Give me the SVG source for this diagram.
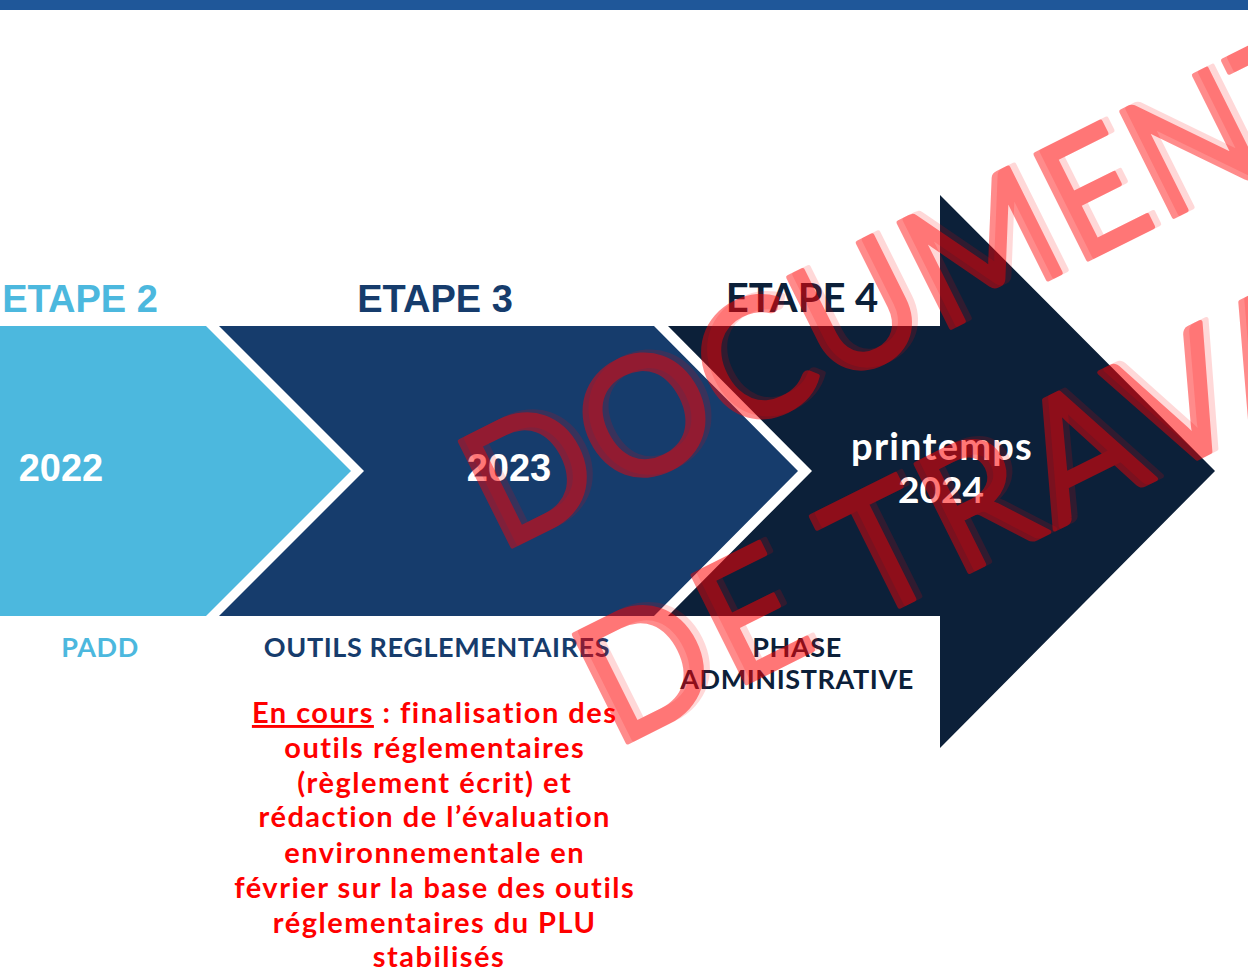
<svg xmlns="http://www.w3.org/2000/svg" width="1248" height="969" viewBox="0 0 1248 969">
<style>
.etape{font-family:"Liberation Sans",Arial,sans-serif;font-weight:bold;font-size:38px;text-anchor:middle}
.lato{font-family:Lato,"Open Sans",sans-serif;font-weight:bold;text-anchor:middle}
.year{font-family:"Liberation Sans",Arial,sans-serif;font-weight:bold;font-size:38px;fill:#ffffff;text-anchor:middle}
.lbl{font-size:27px;letter-spacing:0.6px}
.red{font-family:Lato,"Open Sans",sans-serif;font-weight:bold;font-size:29px;fill:#ff0000;text-anchor:middle;letter-spacing:1.5px}
.wm{font-family:Lato,"Liberation Sans",sans-serif;fill:#ff0000;stroke:#ff0000;stroke-width:4.5px;stroke-linejoin:round}
.wm1{font-size:164px;letter-spacing:1px}
.wm2{font-size:168px;letter-spacing:5px}
</style>
<rect x="0" y="0" width="1248" height="10" fill="#1f5799"/>
<g id="etape2">
<polygon points="0,326 206,326 351,471 206,616 0,616" fill="#4cb8de"/>
<text class="etape" x="80" y="312" fill="#4cb8de">ETAPE 2</text>
<text class="year" x="61" y="481">2022</text>
<text class="lato lbl" x="100" y="657" fill="#4cb8de">PADD</text>
</g>
<g id="etape3">
<polygon points="219,326 654,326 798,471 654,616 219,616 364,471" fill="#163c6c"/>
<text class="etape" x="435" y="312" fill="#163c6c">ETAPE 3</text>
<text class="year" x="509" y="481">2023</text>
<text class="lato lbl" x="437" y="657" fill="#163c6c">OUTILS REGLEMENTAIRES</text>
<text class="red">
<tspan x="439" y="723"><tspan text-decoration="underline">En cours</tspan> : finalisation des</tspan>
<tspan x="439" y="758">outils réglementaires</tspan>
<tspan x="439" y="793">(règlement écrit) et</tspan>
<tspan x="439" y="827">rédaction de l’évaluation</tspan>
<tspan x="439" y="863">environnementale en</tspan>
<tspan x="439" y="898">février sur la base des outils</tspan>
<tspan x="439" y="933">réglementaires du PLU</tspan>
<tspan x="439" y="967">stabilisés</tspan>
</text>
</g>
<g id="etape4">
<polygon points="668,326 940,326 940,195 1215,471 940,748 940,616 668,616 812,471" fill="#0c2039"/>
<text class="lato" x="802" y="312" font-size="40" fill="#0c2039">ETAPE 4</text>
<text class="lato" x="942" y="460" font-size="38" letter-spacing="1.2" fill="#ffffff">printemps</text>
<text class="lato" x="941" y="503" font-size="37" fill="#ffffff">2024</text>
<text class="lato lbl" x="797" y="657" fill="#0c2039">PHASE</text>
<text class="lato lbl" x="797" y="689" fill="#0c2039">ADMINISTRATIVE</text>
</g>
<g id="watermark">
<g opacity="0.15" transform="translate(6,-3)">
<text class="wm wm1" transform="translate(499,553) rotate(-26.5)">DOCUMENT</text>
<text class="wm wm2" transform="translate(614,749) rotate(-26.5)">DE TRAVAIL</text>
</g>
<g opacity="0.45">
<text class="wm wm1" transform="translate(499,553) rotate(-26.5)">DOCUMENT</text>
<text class="wm wm2" transform="translate(614,749) rotate(-26.5)">DE TRAVAIL</text>
</g>
</g>
</svg>
